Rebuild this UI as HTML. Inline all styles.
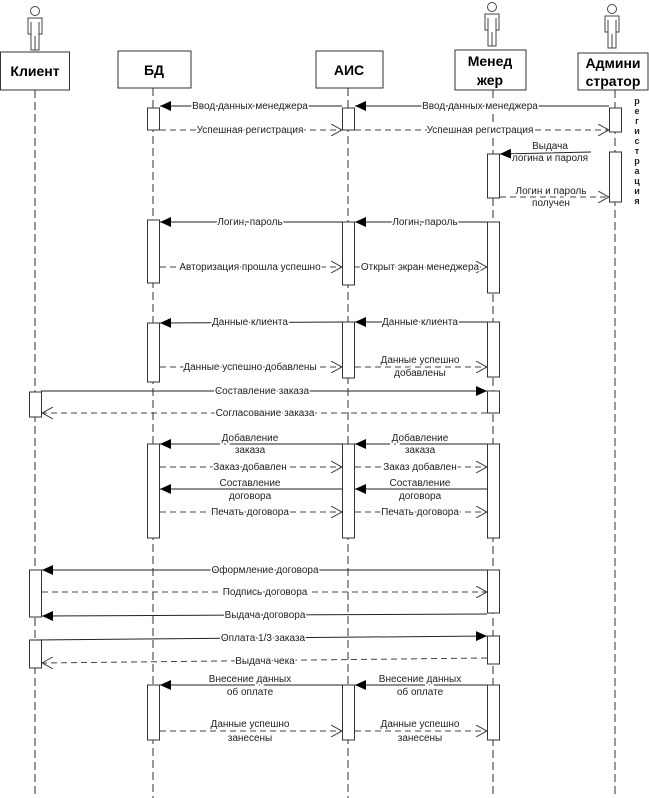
<!DOCTYPE html>
<html><head><meta charset="utf-8"><style>
html,body{margin:0;padding:0;background:#fff;}
svg{display:block;}
.t{font-family:"Liberation Sans",sans-serif;font-size:10px;fill:#222;text-anchor:middle;paint-order:stroke;stroke:#fff;stroke-width:3px;}
.h{font-family:"Liberation Sans",sans-serif;font-size:14px;font-weight:bold;fill:#000;text-anchor:middle;}
.ll{stroke:#333;stroke-width:1;stroke-dasharray:8 4;}
.s{stroke:#222;stroke-width:1;marker-end:url(#fa);}
.d{stroke:#444;stroke-width:1;stroke-dasharray:6 4;marker-end:url(#oa);}
.b{fill:#fff;stroke:#333;stroke-width:1;}
.a{fill:#fff;stroke:#444;stroke-width:1;}
</style></head><body>
<svg width="649" height="798" viewBox="0 0 649 798" xmlns="http://www.w3.org/2000/svg">
<defs>
<marker id="fa" markerWidth="12" markerHeight="10" refX="11" refY="5" orient="auto" markerUnits="userSpaceOnUse"><path d="M0,0 L11,5 L0,10 Z" fill="#000"/></marker>
<marker id="oa" markerWidth="12" markerHeight="12" refX="11" refY="6" orient="auto" markerUnits="userSpaceOnUse"><path d="M0,0 L11,6 L0,12" fill="none" stroke="#444"/></marker>
</defs>
<!-- lifelines -->
<line class="ll" x1="35" y1="90" x2="35" y2="798"/>
<line class="ll" x1="153" y1="88" x2="153" y2="798"/>
<line class="ll" x1="348" y1="88" x2="348" y2="798"/>
<line class="ll" x1="493" y1="90" x2="493" y2="798"/>
<line class="ll" x1="615" y1="90" x2="615" y2="798"/>
<!-- actors -->
<g class="a">
<circle cx="35" cy="11" r="4.5"/><path d="M28,18 H42 V34 H39 V50 H31 V34 H28 Z M35,36 V50 M31,22 V34 M39,22 V34"/>
<circle cx="492" cy="7" r="4.5"/><path d="M485,14 H499 V30 H496 V46 H488 V30 H485 Z M492,32 V46 M488,18 V30 M496,18 V30"/>
<circle cx="612" cy="9" r="4.5"/><path d="M605,16 H619 V32 H616 V48 H608 V32 H605 Z M612,34 V48 M608,20 V32 M616,20 V32"/>
</g>
<!-- header boxes -->
<rect class="b" x="0.5" y="52" width="69" height="38"/>
<text class="h" x="35" y="76">Клиент</text>
<rect class="b" x="118" y="51" width="73" height="37"/>
<text class="h" x="154" y="75">БД</text>
<rect class="b" x="316" y="51" width="67" height="37"/>
<text class="h" x="349" y="75">АИС</text>
<rect class="b" x="455" y="50" width="71" height="40"/>
<text class="h" x="490" y="66">Менед</text><text class="h" x="490" y="85">жер</text>
<rect class="b" x="578" y="53" width="70" height="37"/>
<text class="h" x="613" y="68">Админи</text><text class="h" x="613" y="86">стратор</text>
<!-- vertical label -->
<g class="t" style="font-size:9px;font-weight:bold;stroke:none">
<text x="637" y="104">р</text><text x="637" y="114">е</text><text x="637" y="124">г</text><text x="637" y="134">и</text><text x="637" y="144">с</text><text x="637" y="154">т</text><text x="637" y="164">р</text><text x="637" y="174">а</text><text x="637" y="184">ц</text><text x="637" y="194">и</text><text x="637" y="204">я</text>
</g>
<!-- activation bars -->
<g class="b">
<rect x="147.5" y="108" width="12" height="22"/><rect x="147.5" y="220" width="12" height="63"/><rect x="147.5" y="323" width="12" height="59"/><rect x="147.5" y="444" width="12" height="94"/><rect x="147.5" y="685" width="12" height="55"/>
<rect x="342.5" y="108" width="12" height="22"/><rect x="342.5" y="222" width="12" height="63"/><rect x="342.5" y="322" width="12" height="56"/><rect x="342.5" y="444" width="12" height="94"/><rect x="342.5" y="685" width="12" height="55"/>
<rect x="487.5" y="154" width="12" height="44"/><rect x="487.5" y="222" width="12" height="71"/><rect x="487.5" y="322" width="12" height="55"/><rect x="487.5" y="391" width="12" height="22"/><rect x="487.5" y="444" width="12" height="94"/><rect x="487.5" y="570" width="12" height="43"/><rect x="487.5" y="636" width="12" height="28"/><rect x="487.5" y="685" width="12" height="55"/>
<rect x="609.5" y="108" width="12" height="24"/><rect x="609.5" y="152" width="12" height="50"/>
<rect x="29.5" y="392" width="12" height="25"/><rect x="29.5" y="570" width="12" height="47"/><rect x="29.5" y="640" width="12" height="28"/>
</g>
<!-- messages -->
<line class="s" x1="609" y1="106" x2="355" y2="106"/><text class="t" x="480" y="109">Ввод данных менеджера</text>
<line class="s" x1="342" y1="106" x2="160" y2="106"/><text class="t" x="250" y="109">Ввод данных менеджера</text>
<line class="d" x1="160" y1="130" x2="342" y2="130"/><text class="t" x="250" y="133">Успешная регистрация</text>
<line class="d" x1="355" y1="130" x2="609" y2="130"/><text class="t" x="480" y="133">Успешная регистрация</text>
<line class="s" x1="591" y1="152" x2="500" y2="154"/><text class="t" x="550" y="149">Выдача</text><text class="t" x="550" y="161">логина и пароля</text>
<line class="d" x1="500" y1="197" x2="609" y2="197"/><text class="t" x="551" y="194">Логин и пароль</text><text class="t" x="551" y="206">получен</text>

<line class="s" x1="487" y1="222" x2="355" y2="222"/><text class="t" x="425" y="225">Логин, пароль</text>
<line class="s" x1="342" y1="222" x2="160" y2="222"/><text class="t" x="250" y="225">Логин, пароль</text>
<line class="d" x1="160" y1="267" x2="342" y2="267"/><text class="t" x="250" y="270">Авторизация прошла успешно</text>
<line class="d" x1="355" y1="267" x2="487" y2="267"/><text class="t" x="420" y="270">Открыт экран менеджера</text>

<line class="s" x1="487" y1="322" x2="355" y2="322"/><text class="t" x="420" y="325">Данные клиента</text>
<line class="s" x1="342" y1="322" x2="160" y2="323"/><text class="t" x="250" y="325">Данные клиента</text>
<line class="d" x1="160" y1="367" x2="342" y2="367"/><text class="t" x="250" y="370">Данные успешно добавлены</text>
<line class="d" x1="355" y1="367" x2="487" y2="367"/><text class="t" x="420" y="363">Данные успешно</text><text class="t" x="420" y="376">добавлены</text>

<line class="s" x1="41" y1="391" x2="487" y2="391"/><text class="t" x="262" y="394">Составление заказа</text>
<line class="d" x1="487" y1="413" x2="42" y2="413"/><text class="t" x="265" y="416">Согласование заказа</text>

<line class="s" x1="487" y1="444" x2="355" y2="444"/><text class="t" x="420" y="441">Добавление</text><text class="t" x="420" y="453">заказа</text>
<line class="s" x1="342" y1="444" x2="160" y2="444"/><text class="t" x="250" y="441">Добавление</text><text class="t" x="250" y="453">заказа</text>
<line class="d" x1="160" y1="467" x2="342" y2="467"/><text class="t" x="250" y="470">Заказ добавлен</text>
<line class="d" x1="355" y1="467" x2="487" y2="467"/><text class="t" x="420" y="470">Заказ добавлен</text>
<line class="s" x1="487" y1="489" x2="355" y2="489"/><text class="t" x="420" y="486">Составление</text><text class="t" x="420" y="499">договора</text>
<line class="s" x1="342" y1="489" x2="160" y2="489"/><text class="t" x="250" y="486">Составление</text><text class="t" x="250" y="499">договора</text>
<line class="d" x1="160" y1="512" x2="342" y2="512"/><text class="t" x="250" y="515">Печать договора</text>
<line class="d" x1="355" y1="512" x2="487" y2="512"/><text class="t" x="420" y="515">Печать договора</text>

<line class="s" x1="487" y1="570" x2="42" y2="570"/><text class="t" x="265" y="573">Оформление договора</text>
<line class="d" x1="42" y1="592" x2="487" y2="592"/><text class="t" x="265" y="595">Подпись договора</text>
<line class="s" x1="487" y1="614" x2="42" y2="616"/><text class="t" x="265" y="618">Выдача договора</text>
<line class="s" x1="35" y1="640" x2="487" y2="636"/><text class="t" x="263" y="641">Оплата 1/3 заказа</text>
<line class="d" x1="487" y1="658" x2="42" y2="663"/><text class="t" x="265" y="664">Выдача чека</text>

<line class="s" x1="487" y1="685" x2="355" y2="685"/><text class="t" x="420" y="682">Внесение данных</text><text class="t" x="420" y="695">об оплате</text>
<line class="s" x1="342" y1="685" x2="160" y2="685"/><text class="t" x="250" y="682">Внесение данных</text><text class="t" x="250" y="695">об оплате</text>
<line class="d" x1="160" y1="731" x2="342" y2="731"/><text class="t" x="250" y="727">Данные успешно</text><text class="t" x="250" y="741">занесены</text>
<line class="d" x1="355" y1="731" x2="487" y2="731"/><text class="t" x="420" y="727">Данные успешно</text><text class="t" x="420" y="741">занесены</text>
</svg>
</body></html>
